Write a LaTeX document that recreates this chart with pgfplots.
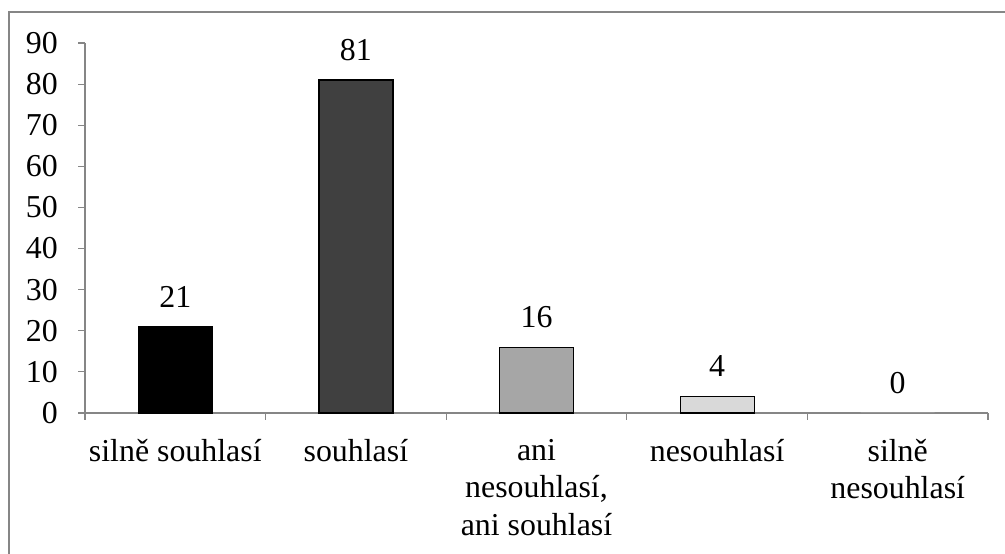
\documentclass[border=0pt]{standalone}
\usepackage{fontspec}
\setmainfont{Liberation Serif}
\usepackage{pgfplots}
\pgfplotsset{compat=1.18}
\definecolor{axisgray}{HTML}{868686}
\definecolor{bartwo}{HTML}{404040}
\definecolor{barthree}{HTML}{A6A6A6}
\definecolor{barfour}{HTML}{D9D9D9}
\begin{document}
\fontsize{32}{37.5}\selectfont
\begin{tikzpicture}[x=1bp,y=1bp]
\useasboundingbox (0,0) rectangle (1005,554);
\draw[axisgray, line width=1.2bp] (9,0) -- (9,542) -- (1005,542);
\begin{axis}[
  at={(85bp,141bp)}, anchor=south west,
  scale only axis, width=903bp, height=370bp,
  xmin=-0.5, xmax=4.5, ymin=0, ymax=90,
  ybar, bar width=74bp,
  axis x line*=bottom, axis y line*=left,
  axis line style={draw=axisgray, line width=1.2bp},
  tick style={draw=axisgray, line width=1.2bp},
  tick align=outside, major tick length=7bp,
  ytick={0,10,...,90},
  xtick={-0.5,0.5,...,4.5}, xticklabels={},
  extra x ticks={0,1,2,3,4},
  extra x tick labels={silně souhlasí, souhlasí, {ani\\nesouhlasí,\\ani souhlasí}, nesouhlasí, {silně\\nesouhlasí}},
  extra x tick style={major tick length=0pt},
  x tick label style={font=\fontsize{32}{37.5}\selectfont, align=center, anchor=north, inner sep=0pt, yshift=-26bp},
  y tick label style={font=\fontsize{32}{37.5}\selectfont, anchor=east, inner sep=0pt, xshift=-20bp},
  /pgf/number format/assume math mode=true,
  nodes near coords,
  every node near coord/.style={font=\fontsize{32}{37.5}\selectfont, inner sep=0pt, anchor=south, yshift=19bp, text=black},
  clip=false,
]
\addplot[bar shift=0pt, fill=black, draw=black, line width=1.2bp] coordinates {(0,21)};
\addplot[bar shift=0pt, fill=bartwo, draw=black, line width=1.2bp] coordinates {(1,81)};
\addplot[bar shift=0pt, fill=barthree, draw=black, line width=1.2bp] coordinates {(2,16)};
\addplot[bar shift=0pt, fill=barfour, draw=black, line width=1.2bp] coordinates {(3,4)};
\addplot[bar shift=0pt, fill=white, draw=none] coordinates {(4,0)};
\end{axis}
\end{tikzpicture}
\end{document}
